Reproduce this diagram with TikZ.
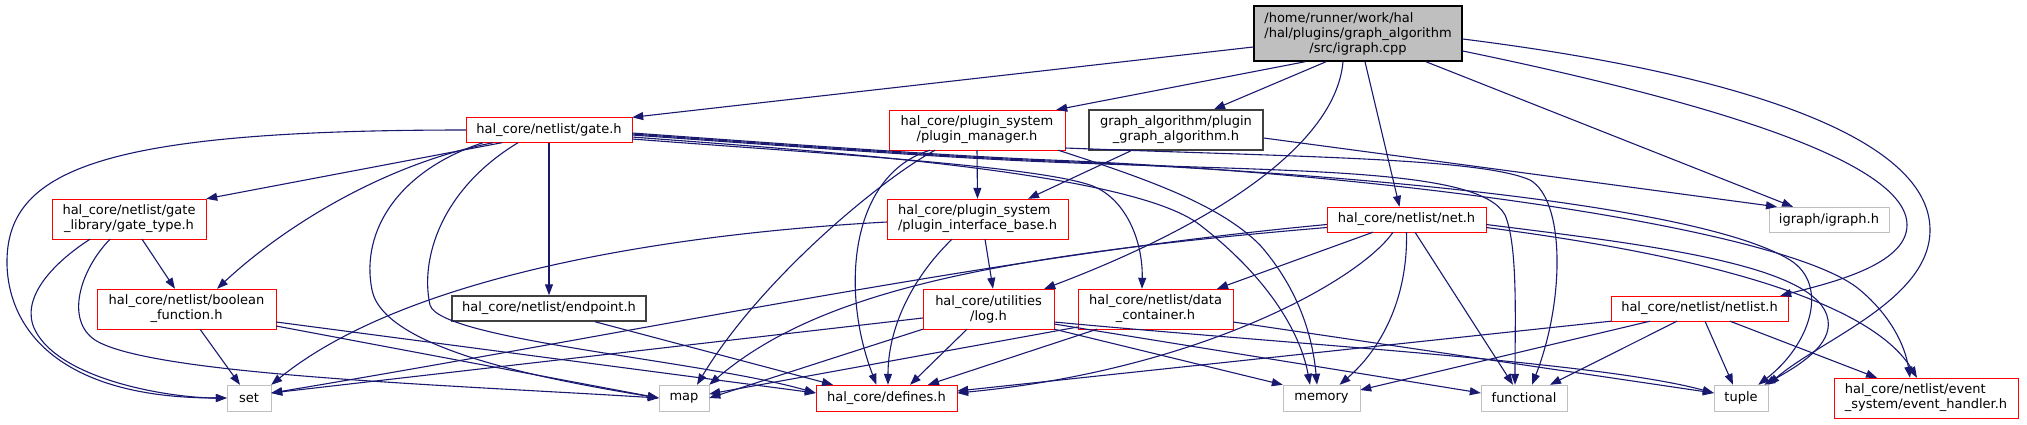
\documentclass[tikz,border=0pt]{standalone}
\usepackage{fontspec}
\setmainfont{DejaVu Sans}
\usepackage{calc}
\usepackage{tikz}
\usetikzlibrary{arrows.meta}
\definecolor{navy}{HTML}{191970}
\definecolor{lightgray}{HTML}{BFBFBF}
\definecolor{darkgray}{HTML}{404040}
\newcommand{\lfirst}[2]{\makebox[\widthof{#2}][l]{#1}\\#2}

\begin{document}
\begin{tikzpicture}[x=1pt,y=-1pt,font=\fontsize{13}{15}\selectfont]
  \tikzset{box/.style={draw,inner sep=3pt,minimum height=25pt,align=center},
    hdr/.style={box,draw=red},
    sys/.style={box,draw=lightgray},
    leaf/.style={box,draw=darkgray,line width=1.5pt},
    src/.style={box,draw=black,fill=lightgray,line width=1.5pt},
    dep/.style={draw=navy,line width=1.1pt,-{Triangle[length=11pt,width=8pt]}}}
  \useasboundingbox (0,0) rectangle (2027,424);
  \node[src,minimum width=208pt,minimum height=55pt] (cpp) at (1358,33.5) {\lfirst{/home/runner/work/hal}{/hal/plugins/graph\_algorithm}\\/src/igraph.cpp};
  \node[hdr,minimum width=166pt] (gate) at (549,130) {hal\_core/netlist/gate.h};
  \node[hdr,minimum width=176pt,minimum height=40pt] (manager) at (977,130) {hal\_core/plugin\_system\\/plugin\_manager.h};
  \node[leaf,minimum width=174pt,minimum height=40pt] (graphalgo) at (1176,130) {graph\_algorithm/plugin\\\_graph\_algorithm.h};
  \node[hdr,minimum width=154pt,minimum height=40pt] (gatetype) at (129,219) {hal\_core/netlist/gate\\\_library/gate\_type.h};
  \node[hdr,minimum width=181pt,minimum height=40pt] (interface) at (977.5,219) {\lfirst{hal\_core/plugin\_system}{/plugin\_interface\_base.h}};
  \node[hdr,minimum width=159pt] (net) at (1406.5,219.5) {hal\_core/netlist/net.h};
  \node[sys,minimum width=120pt] (igraph) at (1829,219.5) {igraph/igraph.h};
  \node[hdr,minimum width=179pt,minimum height=40pt] (boolfunc) at (186.5,309) {hal\_core/netlist/boolean\\\_function.h};
  \node[leaf,minimum width=194pt] (endpoint) at (549,308.5) {hal\_core/netlist/endpoint.h};
  \node[hdr,minimum width=131pt,minimum height=40pt] (logh) at (988.5,309) {hal\_core/utilities\\/log.h};
  \node[hdr,minimum width=155pt,minimum height=40pt] (datacont) at (1155.5,309) {hal\_core/netlist/data\\\_container.h};
  \node[hdr,minimum width=177pt] (netlist) at (1699.5,308.5) {hal\_core/netlist/netlist.h};
  \node[sys,minimum width=44pt,minimum height=26pt] (set) at (249,398) {set};
  \node[sys,minimum width=50pt,minimum height=26pt] (map) at (684,398) {map};
  \node[hdr,minimum width=141pt,minimum height=26pt] (defines) at (886.5,398) {hal\_core/defines.h};
  \node[sys,minimum width=77pt,minimum height=26pt] (memory) at (1321.5,398) {memory};
  \node[sys,minimum width=86pt,minimum height=26pt] (functional) at (1524,398) {functional};
  \node[sys,minimum width=54pt,minimum height=26pt] (tuple) at (1741,398) {tuple};
  \node[hdr,minimum width=184pt,minimum height=40pt] (events) at (1926,398) {\lfirst{hal\_core/netlist/event}{\_system/event\_handler.h}};

  \draw[dep] ([yshift=-13.5pt]cpp.west) -- (gate.north east);
  \draw[dep] ([xshift=-53pt]cpp.south) -- ([xshift=-9pt]manager.north east);
  \draw[dep] ([xshift=-32pt]cpp.south) -- ([xshift=38pt]graphalgo.north);
  \draw[dep] ([xshift=-15pt]cpp.south) .. controls (1335,150) and (1200,230) .. ([xshift=-10pt]logh.north east);
  \draw[dep] ([xshift=7pt]cpp.south) -- ([xshift=-7pt]net.north);
  \draw[dep] ([xshift=68pt]cpp.south) -- ([xshift=-36pt]igraph.north);
  \draw[dep] ([yshift=-17.5pt]cpp.east) .. controls (1700,100) and (1907,160) .. (1907,225) .. controls (1907,265) and (1830,283) .. ([xshift=-8pt]netlist.north east);
  \draw[dep] ([yshift=-5.5pt]cpp.east) .. controls (1750,75) and (1930,140) .. (1930,230) .. controls (1930,300) and (1820,340) .. (tuple.north east);

  \draw[dep] (gate.west) .. controls (100,130) and (5,170) .. (7,265) .. controls (9,330) and (60,398) .. (set.west);
  \draw[dep] ([xshift=-47pt]gate.south) -- (gatetype.north east);
  \draw[dep] ([xshift=-56pt]gate.south) .. controls (380,165) and (280,230) .. ([xshift=30.5pt]boolfunc.north);
  \draw[dep] ([xshift=-66pt]gate.south) .. controls (400,170) and (360,230) .. (372,290) .. controls (384,350) and (550,380) .. (map.west);
  \draw[dep] ([xshift=-31pt]gate.south) .. controls (440,190) and (420,260) .. (430,305) .. controls (440,340) and (700,360) .. ([yshift=5pt]defines.west);
  \draw[dep] (gate.south) -- (endpoint.north);
  \draw[dep] ([yshift=-9pt]gate.east) .. controls (800,152) and (1030,165) .. (1090,185) .. controls (1125,197) and (1143,240) .. ([xshift=-13.5pt]datacont.north);
  \draw[dep] ([yshift=-7pt]gate.east) .. controls (800,150) and (1130,170) .. (1200,225) .. controls (1265,275) and (1300,330) .. ([xshift=-11.5pt]memory.north);
  \draw[dep] ([yshift=-5pt]gate.east) .. controls (800,147) and (950,158) .. (1050,162) .. controls (1300,172) and (1480,168) .. (1505,215) .. controls (1518,245) and (1515,320) .. ([xshift=-9pt]functional.north);
  \draw[dep] ([yshift=-4pt]gate.east) .. controls (800,146) and (950,157) .. (1050,161) .. controls (1350,173) and (1700,205) .. (1790,260) .. controls (1830,285) and (1810,345) .. ([xshift=-10pt]tuple.north east);
  \draw[dep] ([yshift=-3pt]gate.east) .. controls (800,145) and (950,156) .. (1050,160) .. controls (1400,174) and (1790,230) .. (1860,290) .. controls (1890,315) and (1905,345) .. ([xshift=-16pt]events.north);

  \draw[dep] ([xshift=13pt]gatetype.south) -- ([xshift=-11.5pt]boolfunc.north);
  \draw[dep] ([xshift=-39pt]gatetype.south) .. controls (50,265) and (20,300) .. (35,330) .. controls (60,380) and (170,398) .. (set.west);
  \draw[dep] ([xshift=-19pt]gatetype.south) .. controls (80,270) and (65,320) .. (95,340) .. controls (150,375) and (450,385) .. (map.west);

  \draw[dep] ([xshift=13.5pt]boolfunc.south) -- ([xshift=-9pt]set.north);
  \draw[dep] ([yshift=-13pt]boolfunc.east) -- ([yshift=5pt]defines.west);
  \draw[dep] ([yshift=-17pt]boolfunc.east) -- (map.west);
  \draw[dep] ([xshift=46pt]endpoint.south) -- ([xshift=-53.5pt]defines.north);

  \draw[dep] (manager.south) -- (interface.north);
  \draw[dep] ([xshift=-42pt]manager.south) .. controls (880,180) and (760,280) .. ([xshift=13pt]map.north);
  \draw[dep] ([xshift=-47pt]manager.south) .. controls (850,175) and (840,290) .. ([xshift=-10pt]defines.north);
  \draw[dep] ([xshift=-7pt]manager.south east) .. controls (1150,180) and (1220,205) .. (1260,245) .. controls (1295,285) and (1312,330) .. ([xshift=-4.5pt]memory.north);
  \draw[dep] ([yshift=-18pt]manager.east) .. controls (1300,157) and (1480,158) .. (1530,180) .. controls (1565,200) and (1565,300) .. ([xshift=8pt]functional.north);

  \draw[dep] ([xshift=-45pt]graphalgo.south) -- ([xshift=50.5pt]interface.north);
  \draw[dep] ([yshift=-8pt]graphalgo.east) -- ([xshift=-52pt]igraph.north);

  \draw[dep] ([yshift=-3pt]interface.west) .. controls (650,235) and (400,280) .. (set.north east);
  \draw[dep] ([xshift=7.5pt]interface.south) -- ([xshift=4.5pt]logh.north);
  \draw[dep] ([xshift=-25.5pt]interface.south) .. controls (910,280) and (888,330) .. ([xshift=1.5pt]defines.north);

  \draw[dep] ([yshift=-9pt]logh.west) -- ([yshift=5pt]set.east);
  \draw[dep] (logh.south west) -- (map.east);
  \draw[dep] ([xshift=-21.5pt]logh.south) -- ([xshift=23.5pt]defines.north);
  \draw[dep] (logh.south east) -- (memory.north west);
  \draw[dep] ([yshift=-15pt]logh.east) -- ([yshift=5pt]functional.west);
  \draw[dep] ([yshift=-13pt]logh.east) .. controls (1300,345) and (1600,362) .. ([yshift=5pt]tuple.west);

  \draw[dep] ([yshift=-18pt]datacont.west) -- ([yshift=4pt]map.east);
  \draw[dep] ([xshift=-58.5pt]datacont.south) -- ([xshift=41.5pt]defines.north);
  \draw[dep] ([yshift=-13pt]datacont.east) -- ([yshift=5pt]tuple.west);

  \draw[dep] ([yshift=-5pt]net.west) .. controls (1000,255) and (650,330) .. ([yshift=5pt]set.east);
  \draw[dep] ([yshift=-8pt]net.west) .. controls (1000,255) and (820,290) .. (map.north east);
  \draw[dep] ([xshift=-13.5pt]net.south) .. controls (1360,280) and (1200,370) .. ([yshift=5pt]defines.east);
  \draw[dep] ([xshift=-33.5pt]net.south) -- ([xshift=61.5pt]datacont.north);
  \draw[dep] (net.south) .. controls (1408,300) and (1380,350) .. ([xshift=18pt]memory.north);
  \draw[dep] ([xshift=8.5pt]net.south) -- ([xshift=-11pt]functional.north);
  \draw[dep] ([yshift=-5pt]net.east) .. controls (1650,245) and (1820,265) .. (1828,320) .. controls (1832,345) and (1800,365) .. ([xshift=-4pt]tuple.north east);
  \draw[dep] ([yshift=-8pt]net.east) .. controls (1700,255) and (1870,300) .. ([xshift=-9pt]events.north);

  \draw[dep] (netlist.south west) -- ([yshift=7pt]defines.east);
  \draw[dep] ([xshift=-49.5pt]netlist.south) -- ([yshift=8pt]memory.east);
  \draw[dep] ([xshift=-22.5pt]netlist.south) -- ([xshift=26pt]functional.north);
  \draw[dep] ([xshift=5.5pt]netlist.south) -- ([xshift=-8pt]tuple.north);
  \draw[dep] ([xshift=30.5pt]netlist.south) -- ([xshift=-49pt]events.north);
\end{tikzpicture}
\end{document}
